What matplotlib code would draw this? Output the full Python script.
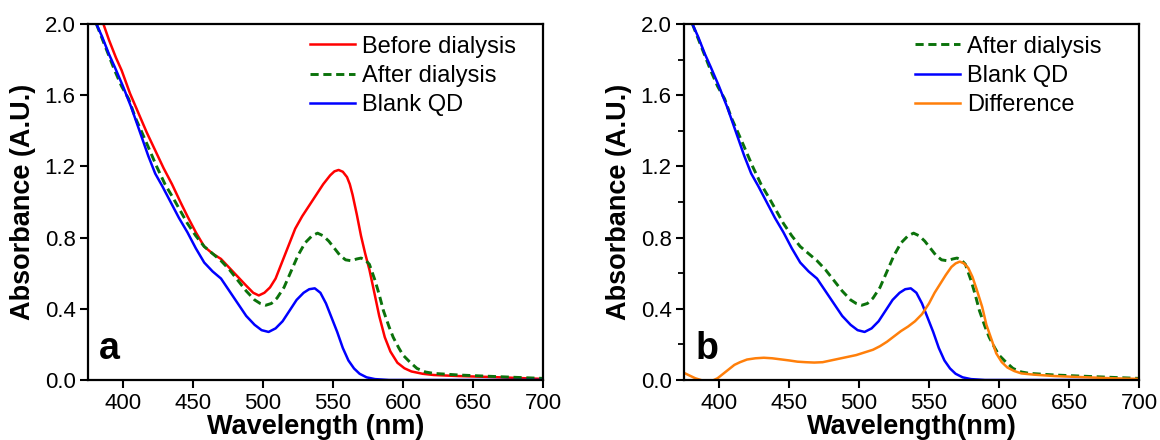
import matplotlib
matplotlib.use("Agg")
import matplotlib.pyplot as plt
from matplotlib.ticker import MultipleLocator

plt.rcParams['font.family'] = ['Liberation Sans', 'DejaVu Sans']

# ---------- DATA ----------
wl_before = [386, 390, 395, 399, 405, 411, 417, 423, 429, 435, 441, 446, 452, 458, 464,
             470, 476, 482, 488, 493, 497, 501, 505, 509, 513, 518, 523, 528, 533, 538,
             543, 548, 551, 554, 557, 560, 562, 564, 567, 570, 573, 576, 579, 583, 587,
             591, 596, 601, 606, 614, 622, 640, 658, 680, 700]
abs_before = [2.00, 1.91, 1.81, 1.74, 1.61, 1.50, 1.39, 1.29, 1.19, 1.10, 1.00, 0.92, 0.83, 0.75, 0.71,
              0.68, 0.63, 0.58, 0.53, 0.49, 0.475, 0.49, 0.52, 0.57, 0.65, 0.75, 0.85, 0.92, 0.98, 1.04,
              1.10, 1.15, 1.172, 1.18, 1.17, 1.14, 1.10, 1.04, 0.93, 0.81, 0.71, 0.62, 0.51, 0.36, 0.24,
              0.16, 0.097, 0.066, 0.048, 0.035, 0.028, 0.022, 0.018, 0.012, 0.006]

wl_after = [381, 385, 389, 394, 399, 404, 409, 413, 418, 424, 430, 436, 441, 446, 452,
            458, 464, 470, 476, 482, 488, 494, 498, 502, 506, 510, 515, 520, 525, 530,
            535, 539, 543, 547, 551, 555, 559, 563, 567, 570, 573, 576, 580, 583, 586,
            590, 593, 597, 600, 605, 610, 616, 622, 640, 658, 680, 700]
abs_after = [2.00, 1.92, 1.84, 1.74, 1.65, 1.58, 1.47, 1.40, 1.31, 1.20, 1.10, 1.02, 0.95, 0.88, 0.81,
             0.75, 0.71, 0.67, 0.62, 0.56, 0.50, 0.45, 0.43, 0.42, 0.43, 0.46, 0.52, 0.61, 0.70, 0.77,
             0.81, 0.825, 0.81, 0.78, 0.74, 0.70, 0.675, 0.67, 0.68, 0.685, 0.675, 0.65, 0.56, 0.48, 0.39,
             0.30, 0.24, 0.18, 0.14, 0.10, 0.065, 0.045, 0.037, 0.028, 0.022, 0.015, 0.009]

wl_blank = [381, 385, 390, 394, 400, 406, 410, 414, 418, 423, 428, 434, 440, 446, 452,
            458, 464, 470, 476, 482, 488, 494, 499, 504, 509, 514, 519, 524, 529, 533,
            537, 541, 545, 549, 553, 557, 561, 565, 569, 574, 580, 590, 620, 660, 700]
abs_blank = [2.00, 1.93, 1.83, 1.76, 1.65, 1.53, 1.44, 1.35, 1.26, 1.16, 1.09, 1.00, 0.91, 0.83, 0.74,
             0.66, 0.61, 0.57, 0.50, 0.43, 0.36, 0.31, 0.28, 0.27, 0.29, 0.33, 0.39, 0.45, 0.49, 0.51,
             0.515, 0.49, 0.43, 0.35, 0.27, 0.18, 0.11, 0.065, 0.035, 0.015, 0.005, 0.0, 0.0, 0.0, 0.0]

wl_diff = [375, 379, 383, 387, 391, 395, 399, 403, 407, 411, 415, 420, 426, 432, 438,
           444, 450, 456, 462, 468, 474, 480, 486, 492, 498, 504, 510, 515, 520, 525,
           530, 535, 540, 545, 550, 554, 558, 562, 566, 569, 572, 575, 578, 581, 584,
           588, 591, 595, 598, 602, 606, 611, 616, 625, 640, 660, 680, 700]
abs_diff = [0.04, 0.025, 0.01, 0.0, -0.01, -0.005, 0.01, 0.035, 0.06, 0.085, 0.10, 0.115, 0.122, 0.125, 0.122,
            0.116, 0.11, 0.103, 0.10, 0.098, 0.10, 0.11, 0.12, 0.13, 0.14, 0.155, 0.17, 0.19, 0.215, 0.245,
            0.275, 0.30, 0.33, 0.37, 0.43, 0.49, 0.54, 0.59, 0.635, 0.655, 0.665, 0.655, 0.63, 0.58, 0.51,
            0.41, 0.31, 0.22, 0.15, 0.10, 0.07, 0.05, 0.037, 0.03, 0.022, 0.016, 0.01, 0.006]

RED = "#ff0000"
GREEN = "#0b720b"
BLUE = "#0000ff"
ORANGE = "#ff7f0a"
DASH = (0, (2.8, 1.6))
LW = 1.8


def style_axes(ax, xlabel, letter, minor_y=False):
    ax.set_xlim(375, 700)
    ax.set_ylim(0, 2.0)
    ax.xaxis.set_major_locator(MultipleLocator(50))
    ax.yaxis.set_major_locator(MultipleLocator(0.4))
    ax.yaxis.set_major_formatter(plt.FormatStrFormatter('%.1f'))
    if minor_y:
        ax.yaxis.set_minor_locator(MultipleLocator(0.2))
        ax.tick_params(axis='y', which='minor', length=4, width=1.3, direction='out')
    ax.tick_params(axis='both', which='major', labelsize=16, length=6, width=1.5,
                   direction='out', pad=3)
    for s in ax.spines.values():
        s.set_linewidth(1.6)
    ax.set_xlabel(xlabel, fontsize=19.5, fontweight='bold', labelpad=0)
    ax.set_ylabel("Absorbance (A.U.)", fontsize=19.5, fontweight='bold', labelpad=6)
    ax.text(0.025, 0.06, letter, transform=ax.transAxes, fontsize=27,
            fontweight='bold', va='baseline', ha='left')


fig = plt.figure(figsize=(11.6, 4.4), dpi=100)
ax1 = fig.add_axes([88 / 1160, 60 / 440, 455 / 1160, 356 / 440])
ax2 = fig.add_axes([684 / 1160, 60 / 440, 455 / 1160, 356 / 440])

# ---------- panel a ----------
ax1.plot(wl_before, abs_before, color=RED, lw=LW, label="Before dialysis")
ax1.plot(wl_after, abs_after, color=GREEN, lw=LW + 0.3, ls=DASH, label="After dialysis")
ax1.plot(wl_blank, abs_blank, color=BLUE, lw=LW, label="Blank QD")
style_axes(ax1, "Wavelength (nm)", "a")
ax1.legend(loc='upper left', bbox_to_anchor=(0.488, 0.967), frameon=False, fontsize=17,
           handlelength=1.9, handletextpad=0.3, labelspacing=0.3, borderpad=0, borderaxespad=0)

# ---------- panel b ----------
ax2.plot(wl_after, abs_after, color=GREEN, lw=LW + 0.3, ls=DASH, label="After dialysis")
ax2.plot(wl_blank, abs_blank, color=BLUE, lw=LW, label="Blank QD")
ax2.plot(wl_diff, abs_diff, color=ORANGE, lw=LW, label="Difference")
style_axes(ax2, "Wavelength(nm)", "b", minor_y=True)
ax2.legend(loc='upper left', bbox_to_anchor=(0.508, 0.967), frameon=False, fontsize=17,
           handlelength=1.9, handletextpad=0.3, labelspacing=0.3, borderpad=0, borderaxespad=0)

fig.savefig("out.png", dpi=100)
